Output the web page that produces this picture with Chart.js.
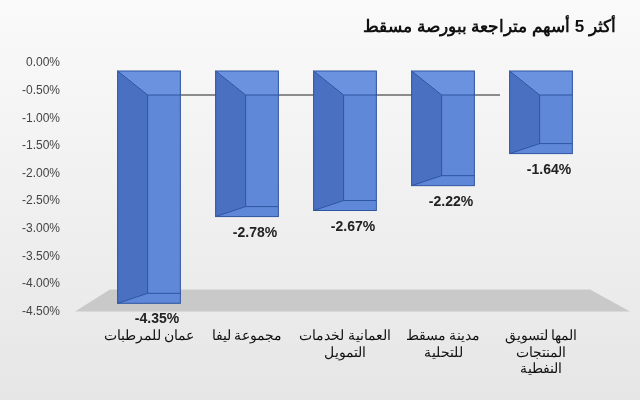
<!DOCTYPE html><html><head><meta charset="utf-8">
<script src="https://cdn.jsdelivr.net/npm/chart.js@4"></script>
<style>body{margin:0;background:#fff}#w{width:640px;height:400px;background:linear-gradient(#fafafa,#e6e6e6)}</style></head><body><div id="w"><canvas id="c" width="640" height="400"></canvas></div>
<script>
const titleText='أكثر 5 أسهم متراجعة ببورصة مسقط';
const categories=[['عمان للمرطبات'],['مجموعة ليفا'],['العمانية لخدمات','التمويل'],['مدينة مسقط','للتحلية'],['المها لتسويق','المنتجات','النفطية']];
const values=[-4.35,-2.78,-2.67,-2.22,-1.64];
const DX=30,DY=24;
const threeD={id:'threeD',beforeDatasetsDraw(ch){const c=ch.ctx,a=ch.chartArea,y0=ch.scales.y.getPixelForValue(0);
 c.save();c.fillStyle='#c9c9c9';c.beginPath();c.moveTo(a.left-25,a.bottom);c.lineTo(a.right+40,a.bottom);c.lineTo(a.right,a.bottom-22);c.lineTo(a.left+10,a.bottom-22);c.closePath();c.fill();
 c.strokeStyle='#222';c.lineWidth=1;c.beginPath();c.moveTo(a.left+40,y0+DY+8);c.lineTo(a.right-90,y0+DY+8);c.stroke();
 c.fillStyle='#111';c.font='bold 17px Arial, Liberation Sans';c.textAlign='right';c.textBaseline='alphabetic';c.fillText(titleText,616,32);c.restore();},
 afterDatasetsDraw(ch){const c=ch.ctx;c.save();ch.getDatasetMeta(0).data.forEach(b=>{const l=b.x-b.width/2,r=b.x+b.width/2,t=b.base+8,bt=b.y;
 c.fillStyle='#5f88d8';c.fillRect(l,t,b.width,bt-t);
 c.fillStyle='#4a70c2';c.beginPath();c.moveTo(l,t);c.lineTo(l+DX,t+DY);c.lineTo(l+DX,bt-10);c.lineTo(l,bt);c.closePath();c.fill();
 c.fillStyle='#6a92de';c.beginPath();c.moveTo(l,t);c.lineTo(r,t);c.lineTo(r,t+DY);c.lineTo(l+DX,t+DY);c.closePath();c.fill();
 c.strokeStyle='#2f55a0';c.lineWidth=1;c.strokeRect(l,t,b.width,bt-t);c.beginPath();c.moveTo(l,t);c.lineTo(l+DX,t+DY);c.lineTo(r,t+DY);c.moveTo(l+DX,t+DY);c.lineTo(l+DX,bt-10);c.lineTo(r,bt-10);c.moveTo(l+DX,bt-10);c.lineTo(l,bt);c.stroke();});
 c.fillStyle='#222';c.font='bold 14px Arial, Liberation Sans';c.textAlign='center';
 ch.getDatasetMeta(0).data.forEach((b,i)=>{c.fillText(values[i].toFixed(2)+'%',b.x+8,b.y+20);});c.restore();}};
new Chart(document.getElementById('c'),{type:'bar',data:{labels:categories,datasets:[{data:values,backgroundColor:'rgba(0,0,0,0)',borderWidth:0,barPercentage:0.64,categoryPercentage:1}]},
options:{responsive:false,animation:false,layout:{padding:{left:0,right:50,top:63,bottom:14}},
plugins:{legend:{display:false},tooltip:{enabled:false},title:{display:false}},
scales:{y:{min:-4.5,max:0,afterFit:s=>{s.width=100},ticks:{stepSize:0.5,color:'#444',padding:32,font:{size:12,family:'Arial, Liberation Sans'},callback:v=>v.toFixed(2)+'%'},grid:{display:false},border:{display:false}},
x:{ticks:{color:'#111',padding:8,font:{size:14,family:'Arial, Liberation Sans'},maxRotation:0,autoSkip:false},grid:{display:false},border:{display:false}}}},plugins:[threeD]});
</script></body></html>
